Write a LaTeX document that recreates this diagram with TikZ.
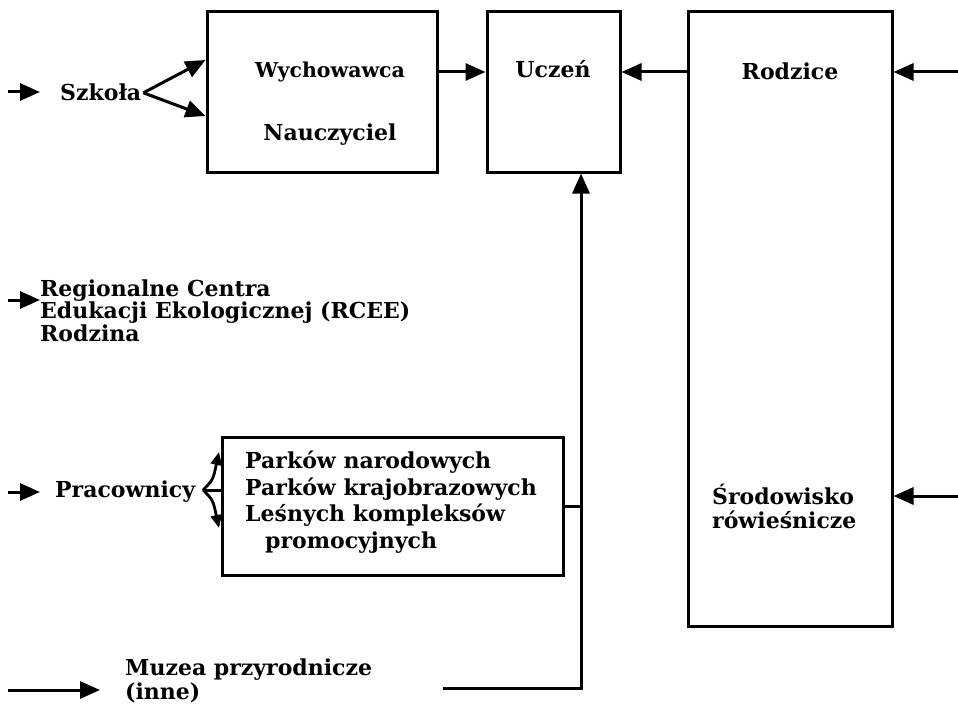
\documentclass[tikz,border=0pt]{standalone}
\usepackage{fontspec}
\setmainfont{DejaVu Serif}
\usetikzlibrary{arrows.meta}
\begin{document}
\begin{tikzpicture}[x=1pt,y=-1pt,
 box/.style={draw,line width=3pt,inner sep=0pt},
 lbl/.style={font=\bfseries\fontsize{22}{22.5}\selectfont,inner sep=0pt},
 wide/.style={font=\bfseries\fontsize{22}{26.5}\selectfont},
 mid/.style={font=\bfseries\fontsize{22}{24}\selectfont},
 arr/.style={line width=3pt,-{Triangle[length=20pt,width=17pt]}},
 sarr/.style={line width=2.8pt,-{Triangle[length=13pt,width=11pt]}},
 ln/.style={line width=3pt}]
\useasboundingbox (0,0) rectangle (958,706);
% boxes
\node[box,minimum width=230pt,minimum height=160pt] (wych) at (322,92) {};
\node[box,minimum width=133pt,minimum height=160pt] (uczen) at (553.5,92) {};
\node[box,minimum width=204pt,minimum height=614pt] (rodz) at (790,319) {};
\node[box,minimum width=341pt,minimum height=138pt] (parks) at (392.5,506) {};
% texts
\node[lbl,font=\bfseries\fontsize{20.5}{22}\selectfont,anchor=base] (t1) at (330,78) {Wychowawca};
\node[lbl,anchor=base] (t2) at (330,140) {Nauczyciel};
\node[lbl,anchor=base] (t3) at (553,78) {Uczeń};
\node[lbl,anchor=base] (t4) at (790,80) {Rodzice};
\node[lbl,mid,align=left,anchor=base west] (t5) at (712,528) {Środowisko\\rówieśnicze};
\node[lbl,anchor=base west] (szk) at (60,101) {Szkoła};
\node[lbl,align=left,anchor=base west] (reg) at (40,341) {Regionalne Centra\\Edukacji Ekologicznej (RCEE)\\Rodzina};
\node[lbl,anchor=base west] (prac) at (55,497) {Pracownicy};
\node[lbl,wide,align=left,anchor=base west] (pk) at (245,548) {Parków narodowych\\Parków krajobrazowych\\Leśnych kompleksów\\\hspace*{20pt}promocyjnych};
\node[lbl,mid,align=left,anchor=base west] (muz) at (125,699) {Muzea przyrodnicze\\(inne)};
% coordinates
\coordinate (r1) at (958,72);
\coordinate (r2) at (958,496);
\coordinate (y63) at (0,60);
\coordinate (y112) at (0,116);
\coordinate (s0) at (8,92);
\coordinate (g0) at (8,300);
\coordinate (p0) at (8,492);
\coordinate (m0) at (8,690);
\coordinate (m1) at (443,688);
\coordinate (j) at (581,688);
\coordinate (pj) at (203,490);
\coordinate (pa) at (219,452);
\coordinate (pb) at (219,528);
% input arrows
\draw[arr] (s0) -- (s0 -| 40,0);
\draw[arr] (g0) -- (reg.west |- g0);
\draw[arr] (p0) -- (p0 -| 40,0);
\draw[arr] (m0) -- (m0 -| 100,0);
% Szkola branches
\draw[arr] ([xshift=2pt]szk.east) -- (wych.west |- y63);
\draw[arr] ([xshift=2pt]szk.east) -- (wych.west |- y112);
% Pracownicy branches
\draw[ln] (pj) -- (parks.west |- pj);
\draw[sarr] (pj) .. controls (213,480) .. (pa);
\draw[sarr] (pj) .. controls (213,500) .. (pb);
% main flow
\draw[arr] (wych.east |- r1) -- (uczen.west |- r1);
\draw[arr] (rodz.west |- r1) -- (uczen.east |- r1);
\draw[arr] (r1) -- (rodz.east |- r1);
\draw[arr] (r2) -- (rodz.east |- r2);
\draw[ln] (parks.east) -- (parks.east -| j);
\draw[arr] (m1) -- (j) -- (uczen.south -| j);
\end{tikzpicture}
\end{document}
